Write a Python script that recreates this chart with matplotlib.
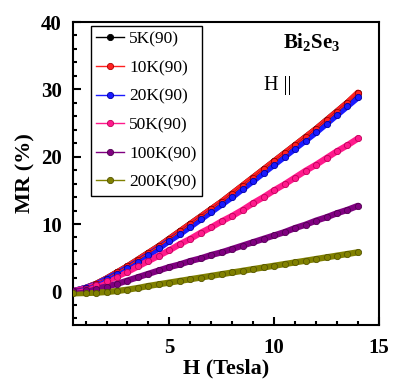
import numpy as np
import matplotlib
matplotlib.use("Agg")
from matplotlib import pyplot as plt
from matplotlib.ticker import MultipleLocator

plt.rcParams['font.family'] = ['Liberation Serif', 'DejaVu Serif']
plt.rcParams['mathtext.fontset'] = 'custom'
plt.rcParams['mathtext.rm'] = 'Liberation Serif'
plt.rcParams['mathtext.bf'] = 'Liberation Serif:bold'

field = [0.4, 1.0, 1.5, 2.0, 2.5, 3.0, 3.5, 4.0, 4.5, 5.0, 5.5, 6.0, 6.5, 7.0,
         7.5, 8.0, 8.5, 9.0, 9.5, 10.0, 10.5, 11.0, 11.5, 12.0, 12.5, 13.0, 13.5, 14.0]

mr_5k = [0.0, 0.5, 1.1, 1.9, 2.8, 3.7, 4.7, 5.7, 6.7, 7.8, 8.9, 10.0, 11.1, 12.2,
         13.3, 14.5, 15.7, 16.9, 18.1, 19.3, 20.5, 21.7, 22.9, 24.1, 25.4, 26.7, 28.0, 29.4]
mr_10k = [0.0, 0.5, 1.1, 1.9, 2.8, 3.7, 4.7, 5.7, 6.7, 7.8, 8.9, 10.0, 11.1, 12.2,
          13.3, 14.5, 15.7, 16.9, 18.1, 19.3, 20.5, 21.7, 22.9, 24.1, 25.4, 26.7, 28.0, 29.5]
mr_20k = [0.0, 0.5, 1.0, 1.8, 2.6, 3.5, 4.4, 5.4, 6.4, 7.5, 8.5, 9.6, 10.7, 11.8,
          12.9, 14.0, 15.2, 16.4, 17.6, 18.8, 20.0, 21.2, 22.4, 23.6, 24.9, 26.2, 27.5, 28.8]
mr_50k = [0.0, 0.4, 0.9, 1.5, 2.2, 2.9, 3.7, 4.5, 5.3, 6.1, 7.0, 7.8, 8.7, 9.5,
          10.4, 11.2, 12.1, 13.1, 14.0, 15.0, 15.9, 16.9, 17.9, 18.8, 19.8, 20.8, 21.7, 22.7]
mr_100k = [0.0, 0.15, 0.4, 0.7, 1.1, 1.6, 2.1, 2.6, 3.1, 3.6, 4.0, 4.5, 4.9, 5.4,
           5.8, 6.3, 6.8, 7.3, 7.8, 8.3, 8.8, 9.4, 9.9, 10.5, 11.0, 11.6, 12.1, 12.7]
mr_200k = [-0.3, -0.25, -0.2, -0.1, 0.05, 0.25, 0.5, 0.8, 1.05, 1.3, 1.55, 1.8, 2.05, 2.3,
           2.55, 2.8, 3.05, 3.3, 3.55, 3.8, 4.05, 4.3, 4.55, 4.8, 5.05, 5.3, 5.55, 5.8]

labels = ["5K(90)", "10K(90)", "20K(90)", "50K(90)", "100K(90)", "200K(90)"]
series = [mr_5k, mr_10k, mr_20k, mr_50k, mr_100k, mr_200k]
colors = ["#000000", "#ff2020", "#1a1aff", "#ff1a8c", "#800080", "#808000"]
edges = ["#000000", "#b00000", "#0000a0", "#c0005a", "#500050", "#555500"]

fig = plt.figure(figsize=(3.98, 3.82), dpi=100)
ax = fig.add_axes([0.1834, 0.1492, 0.7686, 0.7932])

for y, c, e, lab in zip(series, colors, edges, labels):
    # thick band under the markers, like the dense data points
    ax.plot(field, y, color=c, lw=4.5, solid_capstyle='round', zorder=2)
    ax.plot(field, y, color=c, lw=1, marker='o', ms=4.5, mfc=c, mec=e, mew=0.6,
            label=lab, zorder=3)

ax.set_xlim(0.4, 15)
ax.set_ylim(-5, 40)
ax.xaxis.set_major_locator(MultipleLocator(5))
ax.xaxis.set_minor_locator(MultipleLocator(1))
ax.yaxis.set_major_locator(MultipleLocator(10))
ax.yaxis.set_minor_locator(MultipleLocator(2))
ax.tick_params(which='both', direction='in', top=False, right=False, width=1.5)
ax.tick_params(which='major', length=6)
ax.tick_params(which='minor', length=3)
for s in ax.spines.values():
    s.set_linewidth(1.5)
for t in ax.get_xticklabels() + ax.get_yticklabels():
    t.set_fontweight('bold')
    t.set_fontsize(15)
ax.tick_params(axis='x', pad=9)
ax.tick_params(axis='y', pad=8)

ax.set_xlabel("H (Tesla)", fontsize=16, fontweight='bold', labelpad=1)
ax.set_ylabel("MR (%)", fontsize=16, fontweight='bold', labelpad=4)

leg = ax.legend(loc='upper left', bbox_to_anchor=(0.059, 0.987), borderaxespad=0,
                fontsize=12.5, frameon=True, fancybox=False, edgecolor='black',
                framealpha=1, handlelength=1.6, labelspacing=0.72, borderpad=0.3,
                handletextpad=0.3)
leg.get_frame().set_linewidth(1.0)

ax.text(0.873, 0.914, r"$\mathbf{Bi_2Se_3}$", transform=ax.transAxes, fontsize=15,
        ha='right', va='baseline')
ax.text(0.668, 0.776, "H ||", transform=ax.transAxes, fontsize=14.5,
        ha='center', va='baseline')

fig.savefig("out.png", dpi=100)
